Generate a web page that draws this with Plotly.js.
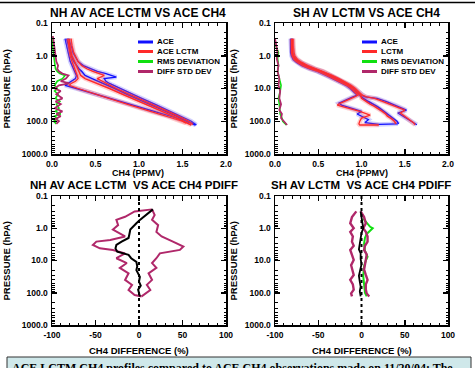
<!DOCTYPE html>
<html>
<head>
<meta charset="utf-8">
<script src="https://cdn.plot.ly/plotly-3.0.1.min.js"></script>
<style>html,body{margin:0;padding:0;background:#fff;}#chart{width:475px;height:368px;}</style>
</head>
<body>
<div id="chart"></div>
<script>
// ---------------- DATA ----------------
// NH: CH4 (ppmv) vs pressure (hPa)
const nhAceMeanP  = [0.3,0.4,0.6,0.8,1.0,1.5,2.0,2.5,3.0,4.0,5.0,7.0,10,15,20,30,50,70,100,130];
const nhAceMean   = [0.17,0.18,0.20,0.21,0.22,0.25,0.28,0.31,0.34,0.38,0.46,0.59,0.72,0.86,0.97,1.12,1.30,1.43,1.55,1.65];
const nhAcePlusP  = [0.3,0.4,0.6,0.8,1.0,1.5,2.0,2.5,3.0,3.5,4.0,4.5,5.0,6.0,7.0,10,15,20,30,50,70,100,130];
const nhAcePlus   = [0.19,0.21,0.23,0.24,0.26,0.30,0.36,0.44,0.52,0.62,0.70,0.74,0.60,0.62,0.66,0.78,0.92,1.03,1.18,1.36,1.48,1.60,1.66];
const nhAceMinusP = [0.3,0.4,0.6,0.8,1.0,1.5,2,3,4,5,6,7,8,10,15,20,30,50,70,100,110];
const nhAceMinus  = [0.15,0.16,0.17,0.18,0.19,0.21,0.23,0.26,0.28,0.27,0.22,0.17,0.15,0.28,0.51,0.66,0.88,1.17,1.36,1.55,1.58];

const nhLctmMeanP  = [0.3,0.4,0.6,0.8,1.0,1.5,2.0,2.5,3.0,4.0,5.0,7.0,10,15,20,30,50,70,100,130];
const nhLctmMean   = [0.20,0.20,0.21,0.22,0.23,0.26,0.28,0.30,0.31,0.33,0.38,0.52,0.66,0.81,0.92,1.07,1.26,1.39,1.51,1.60];
const nhLctmPlusP  = [0.3,0.5,0.8,1.0,1.5,2,2.5,3,3.5,4,5,7,10,15,20,30,50,70,100,125];
const nhLctmPlus   = [0.22,0.23,0.25,0.27,0.30,0.34,0.40,0.47,0.55,0.60,0.52,0.62,0.74,0.89,1.00,1.15,1.33,1.45,1.57,1.62];
const nhLctmMinusP = [0.3,0.5,0.8,1.0,1.5,2,3,4,5,6,7,8,10,15,20,30,50,70,100,115];
const nhLctmMinus  = [0.18,0.19,0.20,0.21,0.23,0.25,0.27,0.29,0.30,0.27,0.22,0.20,0.30,0.50,0.64,0.86,1.13,1.32,1.50,1.54];

const nhDevP = [0.25,0.4,0.6,1.0,1.5,2,2.5,3,3.5,4,5,6,7,8,10,12,15,20,25,30,40,50,60,70,85,100,120];
const nhRms  = [0.00,0.01,0.01,0.02,0.03,0.03,0.04,0.06,0.09,0.15,0.12,0.06,0.04,0.03,0.06,0.03,0.07,0.04,0.09,0.05,0.08,0.04,0.10,0.03,0.06,0.02,0.05];
const nhStd  = [0.01,0.02,0.03,0.04,0.05,0.07,0.06,0.08,0.12,0.19,0.16,0.10,0.20,0.08,0.03,0.10,0.05,0.12,0.04,0.10,0.03,0.12,0.05,0.10,0.04,0.08,0.05];

// SH: CH4 (ppmv) vs pressure (hPa)
const shAceMeanP  = [0.3,0.5,0.8,1.0,1.3,1.6,2.0,2.5,3.0,4.0,5.0,6.5,8.0,10,13,16,20,25,30,35,40,50,60,70,85,100,120];
const shAceMean   = [0.19,0.19,0.19,0.20,0.23,0.27,0.34,0.43,0.52,0.62,0.70,0.78,0.84,0.89,0.94,0.98,1.02,1.08,1.14,1.18,1.21,1.26,1.30,1.33,1.37,1.41,1.43];
const shAcePlusP  = [0.3,0.5,0.8,1.0,1.3,1.6,2.0,2.5,3.0,4.0,5.0,6.5,8.0,10,13,16,18,20,25,32,40,46,56,70,90,110,128];
const shAcePlus   = [0.20,0.20,0.21,0.22,0.25,0.30,0.37,0.46,0.55,0.65,0.73,0.81,0.87,0.92,0.97,1.00,1.04,1.18,1.29,1.39,1.47,1.52,1.42,1.48,1.55,1.60,1.64];
const shAceMinusP = [0.3,0.5,0.8,1.0,1.3,1.6,2.0,2.5,3.0,4.0,5.0,6.5,8.0,10,13,16,18,24,28,32,40,50,60,75,90,110,125,120];
const shAceMinus  = [0.18,0.18,0.18,0.19,0.21,0.25,0.31,0.40,0.49,0.59,0.67,0.75,0.82,0.87,0.92,0.95,0.90,0.80,0.74,0.77,0.88,1.00,0.95,1.02,1.08,1.04,1.20,1.42];

const shLctmMeanP  = [0.3,0.5,0.8,1.0,1.3,1.6,2.0,2.5,3.0,4.0,5.0,6.5,8.0,10,13,16,20,25,30,35,40,50,60,70,85,100,120];
const shLctmMean   = [0.20,0.20,0.20,0.21,0.24,0.29,0.36,0.45,0.54,0.64,0.72,0.80,0.86,0.91,0.95,0.99,1.00,1.05,1.10,1.15,1.19,1.24,1.28,1.30,1.35,1.38,1.40];
const shLctmPlusP  = [0.3,0.5,0.8,1.0,1.3,1.6,2.0,2.5,3.0,4.0,5.0,6.5,8.0,10,13,16,18,20,25,32,40,46,56,70,90,110,128];
const shLctmPlus   = [0.21,0.21,0.22,0.23,0.26,0.31,0.38,0.47,0.56,0.66,0.74,0.82,0.88,0.93,0.98,1.01,1.06,1.15,1.25,1.35,1.44,1.50,1.45,1.50,1.56,1.60,1.62];
const shLctmMinusP = [0.3,0.5,0.8,1.0,1.3,1.6,2.0,2.5,3.0,4.0,5.0,6.5,8.0,10,13,16,18,22,28,32,40,50,65,80,100,120,130,130];
const shLctmMinus  = [0.19,0.19,0.19,0.20,0.22,0.26,0.32,0.41,0.50,0.60,0.68,0.76,0.83,0.88,0.93,0.96,0.92,0.84,0.76,0.72,0.85,0.98,1.10,1.00,0.98,0.97,0.98,1.20];

const shDevP = [0.3,0.5,0.8,1.2,2,3,5,8,12,20,30,45,60,80,100,120,130];
const shRms  = [0.00,0.01,0.04,0.03,0.04,0.03,0.05,0.07,0.06,0.04,0.05,0.06,0.06,0.08,0.09,0.12,0.13];
const shStd  = [0.00,0.02,0.03,0.02,0.04,0.03,0.05,0.04,0.06,0.05,0.07,0.05,0.08,0.07,0.10,0.12,0.14];

// NH percent difference (%)
const nhPdP    = [0.26,0.3,0.4,0.55,0.7,0.9,1.1,1.5,2.0,2.6,3.3,4.2,5.3,6.7,8.5,11,15,20,25,32,45,60,80,100,130];
const nhPdMean = [16,13,8,1,-3,-7,-10,-11,-12,-20,-26,-27,-25,-12,-9,-3,-2,-3,-1,1,0,2,-1,0,1];
const nhPdHiP  = [0.26,0.39,0.55,0.8,1.3,1.8,2.6,3.7,4.7,6,8.5,12,17,25,40,57,82,117,130];
const nhPdHi   = [15,18,15,22,20,26,39,51,47,24,20,15,20,11,15,9,13,5,3];
const nhPdLoP  = [0.26,0.3,0.44,0.55,0.8,1.1,1.8,2.3,2.6,3.3,4.2,4.7,6,8.5,12,17,25,40,57,82,117,130];
const nhPdLo   = [15,-5,-16,-26,-24,-30,-16,-33,-49,-53,-45,-30,-16,-26,-14,-22,-12,-16,-8,-12,-5,3];

// SH percent difference (%)
const shPdMeanP = [0.3,0.5,0.7,1.0,1.4,2.0,3.0,4.5,6,9,13,20,30,45,65,90,130];
const shPdMean  = [-1,0,1,2,0,-1,-2,-3,-1,-1,0,-2,-3,-2,-1,-2,-1];
const shPdEnvP  = [0.3,0.45,0.7,1.0,1.3,1.8,2.6,3.5,4.7,6.5,9.6,14,19,28,40,55,80,105,130];
const shPdLo    = [-6,-11,-13,-9,-13,-10,-11,-9,-13,-11,-9,-12,-11,-9,-13,-10,-9,-12,-11];
const shPdHi    = [-1,3,5,2,5,7,7,4,3,6,5,4,3,5,7,5,5,6,9];
const shPdRmsP  = [0.5,0.7,0.9,1.0,1.2,1.5,2,3,5,7.6,10,15,30,60,100,130];
const shPdRms   = [2,6,10,13,10,6,4,3,4,7,5,3,2,3,4,6];

// Tick labels
const pTickVals = [0.1,1,10,100,1000];
const pTickText = ['0.1','1.0','10.0','100.0','1000.0'];
const chTickVals = [0,0.5,1,1.5,2];
const chTickText = ['0.0','0.5','1.0','1.5','2.0'];
const pdTickVals = [-100,-50,0,50,100];
const pdTickText = ['-100','-50','0','50','100'];

// ---------------- STYLE / LAYOUT ----------------
const W = 475, H = 368;
const fx = p => p / W;
const fy = p => 1 - p / H;
const BLUE = '#1010ff', RED = '#ff2a2a', GREEN = '#10e010', PURPLE = '#b0286a';
const BLUE_HALO = 'rgba(90,90,255,0.28)', RED_HALO = 'rgba(255,80,80,0.28)';
const FONT = 'Liberation Sans, Arial, sans-serif';

function line(xs, ps, color, width, xa, ya, dash) {
  return {x: xs, y: ps, xaxis: xa, yaxis: ya, type: 'scatter', mode: 'lines',
          line: {color: color, width: width, dash: dash || 'solid'}, showlegend: false, hoverinfo: 'skip'};
}
// a profile line with a soft halo underneath (like the original rendering)
function haloLine(xs, ps, color, halo, width, xa, ya) {
  return [line(xs, ps, halo, 4.5, xa, ya), line(xs, ps, color, width, xa, ya)];
}

const traces = [].concat(
  haloLine(nhAcePlus, nhAcePlusP, BLUE, BLUE_HALO, 1.3, 'x', 'y'),
  haloLine(nhAceMinus, nhAceMinusP, BLUE, BLUE_HALO, 1.3, 'x', 'y'),
  haloLine(nhAceMean, nhAceMeanP, BLUE, BLUE_HALO, 1.5, 'x', 'y'),
  haloLine(nhLctmPlus, nhLctmPlusP, RED, RED_HALO, 1.3, 'x', 'y'),
  haloLine(nhLctmMinus, nhLctmMinusP, RED, RED_HALO, 1.3, 'x', 'y'),
  haloLine(nhLctmMean, nhLctmMeanP, RED, RED_HALO, 1.5, 'x', 'y'),
  [line(nhRms, nhDevP, GREEN, 1.6, 'x', 'y'),
   line(nhStd, nhDevP, PURPLE, 1.8, 'x', 'y')],

  haloLine(shAcePlus, shAcePlusP, BLUE, BLUE_HALO, 1.3, 'x2', 'y2'),
  haloLine(shAceMinus, shAceMinusP, BLUE, BLUE_HALO, 1.3, 'x2', 'y2'),
  haloLine(shAceMean, shAceMeanP, BLUE, BLUE_HALO, 1.5, 'x2', 'y2'),
  haloLine(shLctmPlus, shLctmPlusP, RED, RED_HALO, 1.3, 'x2', 'y2'),
  haloLine(shLctmMinus, shLctmMinusP, RED, RED_HALO, 1.3, 'x2', 'y2'),
  haloLine(shLctmMean, shLctmMeanP, RED, RED_HALO, 1.5, 'x2', 'y2'),
  [line(shRms, shDevP, GREEN, 1.6, 'x2', 'y2'),
   line(shStd, shDevP, PURPLE, 1.8, 'x2', 'y2'),

   line(nhPdHi, nhPdHiP, PURPLE, 2, 'x3', 'y3'),
   line(nhPdLo, nhPdLoP, PURPLE, 2, 'x3', 'y3'),
   line(nhPdMean, nhPdP, '#000', 2, 'x3', 'y3'),

   line(shPdRms, shPdRmsP, GREEN, 2, 'x4', 'y4'),
   line(shPdHi, shPdEnvP, PURPLE, 2.4, 'x4', 'y4'),
   line(shPdLo, shPdEnvP, PURPLE, 2.4, 'x4', 'y4'),
   line(shPdMean, shPdMeanP, '#000', 1.8, 'x4', 'y4')]
);

const tickFont = {family: FONT, size: 8.5, color: '#000', weight: 'bold'};
const logMinor = [];
[0.1, 1, 10, 100].forEach(d => { for (let k = 2; k <= 9; k++) logMinor.push(d * k); });

function xAx(dom, anchor, range, vals, text, minorD) {
  return {domain: dom, anchor: anchor, range: range, tickmode: 'array', tickvals: vals, ticktext: text,
          showline: true, linecolor: '#000', linewidth: 1.5, mirror: 'ticks', ticks: 'inside',
          ticklen: 5, tickwidth: 1.5, tickcolor: '#000', showgrid: false, zeroline: false,
          tickfont: tickFont, ticklabelstandoff: 1, fixedrange: true,
          minor: {dtick: minorD, ticks: 'inside', ticklen: 2.5, tickwidth: 1, tickcolor: '#000', showgrid: false}};
}
function yAx(dom, anchor) {
  return {domain: dom, anchor: anchor, type: 'log', range: [3, -1], tickmode: 'array',
          tickvals: pTickVals, ticktext: pTickText,
          showline: true, linecolor: '#000', linewidth: 1.5, mirror: 'ticks', ticks: 'inside',
          ticklen: 5, tickwidth: 1.5, tickcolor: '#000', showgrid: false, zeroline: false,
          tickfont: tickFont, ticklabelstandoff: 1, fixedrange: true,
          minor: {tickmode: 'array', tickvals: logMinor, ticks: 'inside', ticklen: 2.5, tickwidth: 1, tickcolor: '#000', showgrid: false}};
}

const colL = [fx(52), fx(226)], colR = [fx(275), fx(448)];
const rowT = [fy(154), fy(23)], rowB = [fy(325), fy(196)];

function ann(text, x, y, size, extra) {
  return Object.assign({text: text, x: fx(x), y: fy(y), xref: 'paper', yref: 'paper', showarrow: false,
          xanchor: 'center', yanchor: 'middle',
          font: {family: FONT, size: size, color: '#000', weight: 'bold'}}, extra || {});
}

const annotations = [
  ann('NH AV ACE LCTM VS ACE CH4', 138, 13, 12),
  ann('SH AV LCTM VS ACE CH4', 366, 13, 12),
  ann('NH AV ACE LCTM \u00a0VS ACE CH4 PDIFF', 134, 185, 11.5),
  ann('SH AV LCTM \u00a0VS ACE CH4 PDIFF', 361, 185, 11.5),
  ann('CH4 (PPMV)', 138, 173, 9),
  ann('CH4 (PPMV)', 362, 173, 9),
  ann('CH4 DIFFERENCE (%)', 139, 350, 9.5),
  ann('CH4 DIFFERENCE (%)', 362, 350, 9.5),
  ann('PRESSURE (hPA)', 6, 88.5, 9.5, {textangle: -90}),
  ann('PRESSURE (hPA)', 233, 88.5, 9.5, {textangle: -90}),
  ann('PRESSURE (hPA)', 6, 260.5, 9.5, {textangle: -90}),
  ann('PRESSURE (hPA)', 233, 260.5, 9.5, {textangle: -90}),
  ann('ACE LCTM CH4 profiles compared to ACE CH4 observations made on 11/20/04: The', 10, 359, 12,
      {xanchor: 'left', yanchor: 'top', font: {family: 'Liberation Serif, Times New Roman, serif', size: 12, color: '#000', weight: 'bold'}})
];

const shapes = [
  {type: 'line', xref: 'paper', yref: 'paper', x0: 0, x1: 1, y0: fy(2.5), y1: fy(2.5), line: {color: '#000', width: 1.5}},
  {type: 'rect', xref: 'paper', yref: 'paper', x0: fx(7), x1: fx(471), y0: fy(375), y1: fy(357),
   fillcolor: '#cfe8ea', line: {color: '#333', width: 1}, layer: 'below'},
  {type: 'line', xref: 'x3', yref: 'y3 domain', x0: 0, x1: 0, y0: 0, y1: 1, line: {color: '#000', width: 2, dash: '3px,3px'}},
  {type: 'line', xref: 'x4', yref: 'y4 domain', x0: 0, x1: 0, y0: 0, y1: 1, line: {color: '#000', width: 2, dash: '3px,3px'}}
];

// legends (sample line + label)
const legNH = [['ACE', BLUE], ['ACE LCTM', RED], ['RMS DEVIATION', GREEN], ['DIFF STD DEV', PURPLE]];
const legSH = [['ACE', BLUE], ['LCTM', RED], ['RMS DEVIATION', GREEN], ['DIFF STD DEV', PURPLE]];
const legY = [42, 51.5, 61.5, 71.5];
function addLegend(items, x0) {
  items.forEach((it, i) => {
    shapes.push({type: 'line', xref: 'paper', yref: 'paper', x0: fx(x0), x1: fx(x0 + 15), y0: fy(legY[i]), y1: fy(legY[i]),
                 line: {color: it[1], width: 3}});
    annotations.push(ann(it[0], x0 + 17, legY[i], 8, {xanchor: 'left'}));
  });
}
addLegend(legNH, 138);
addLegend(legSH, 362);

const layout = {
  width: W, height: H, margin: {l: 0, r: 0, t: 0, b: 0},
  paper_bgcolor: '#fff', plot_bgcolor: '#fff', showlegend: false,
  xaxis:  xAx(colL, 'y',  [0, 2], chTickVals, chTickText, 0.1),
  yaxis:  yAx(rowT, 'x'),
  xaxis2: xAx(colR, 'y2', [0, 2], chTickVals, chTickText, 0.1),
  yaxis2: yAx(rowT, 'x2'),
  xaxis3: xAx(colL, 'y3', [-100, 100], pdTickVals, pdTickText, 10),
  yaxis3: yAx(rowB, 'x3'),
  xaxis4: xAx(colR, 'y4', [-100, 100], pdTickVals, pdTickText, 10),
  yaxis4: yAx(rowB, 'x4'),
  annotations: annotations,
  shapes: shapes
};

Plotly.newPlot('chart', traces, layout, {displayModeBar: false, staticPlot: true});
</script>
</body>
</html>
